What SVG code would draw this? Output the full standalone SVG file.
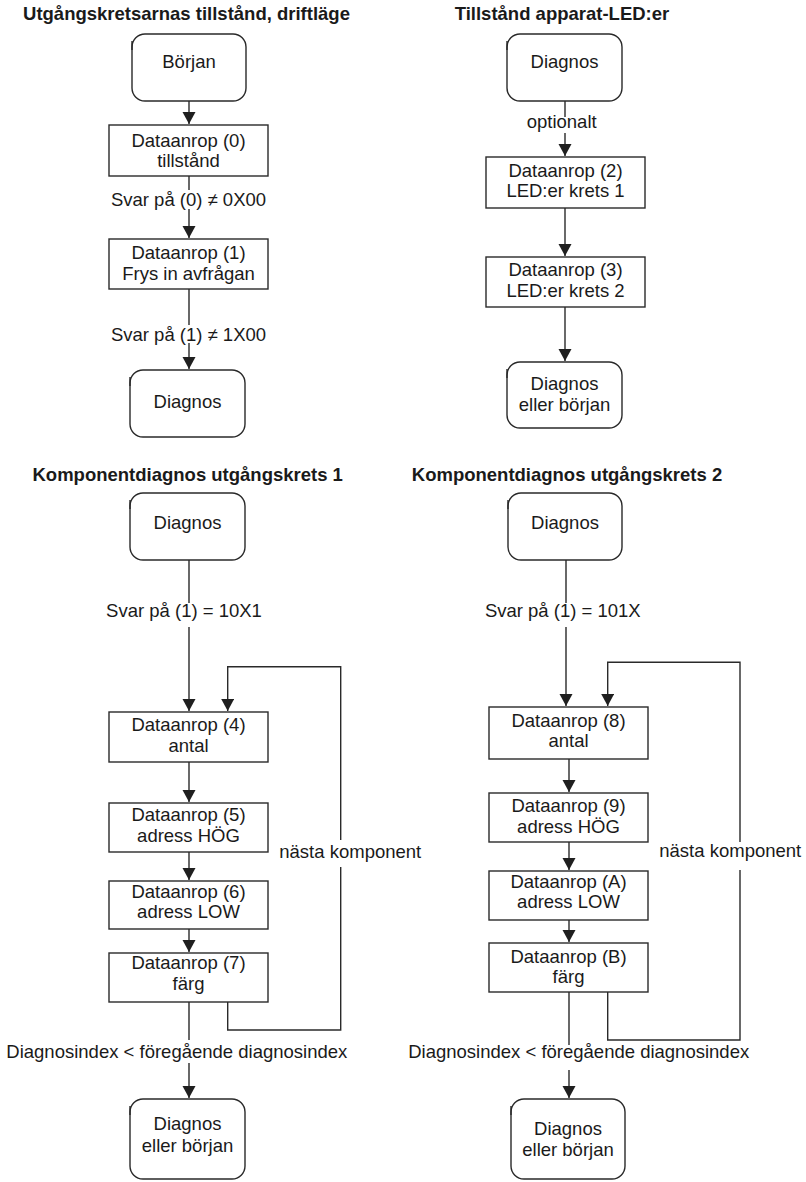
<svg xmlns="http://www.w3.org/2000/svg" width="806" height="1182" viewBox="0 0 806 1182">
<style>
text{font-family:"Liberation Sans",Arial,sans-serif;font-size:18.5px;fill:#1a1a1a;text-anchor:middle}
.t{font-weight:bold}
.s{text-anchor:start}
.b{fill:#fff;stroke:#2a2a2a;stroke-width:1.4}
.c{fill:none;stroke:#2a2a2a;stroke-width:1.4}
</style>
<defs>
<marker id="ah" markerWidth="14" markerHeight="14" refX="12" refY="6.5" orient="auto" markerUnits="userSpaceOnUse"><path d="M0,0 L12,6.5 L0,13 Z" fill="#1f1f1f"/></marker>
</defs>
<rect width="806" height="1182" fill="#fff"/>

<g id="titles">
<text class="t" x="186.5" y="19.5">Utgångskretsarnas tillstånd, driftläge</text>
<text class="t" x="562" y="19.5">Tillstånd apparat-LED:er</text>
<text class="t" x="187.7" y="481">Komponentdiagnos utgångskrets 1</text>
<text class="t" x="567" y="481">Komponentdiagnos utgångskrets 2</text>
</g>

<g id="connectors">
<path class="c" d="M189,101 V124" marker-end="url(#ah)"/>
<path class="c" d="M189,176 V190 M189,209 V238" marker-end="url(#ah)"/>
<path class="c" d="M189,289 V325 M189,343 V369" marker-end="url(#ah)"/>
<path class="c" d="M565,101 V117 M565,133 V156" marker-end="url(#ah)"/>
<path class="c" d="M565,208 V256" marker-end="url(#ah)"/>
<path class="c" d="M565,307 V361" marker-end="url(#ah)"/>
<path class="c" d="M189,560 V603 M189,627 V711" marker-end="url(#ah)"/>
<path class="c" d="M189,762 V802" marker-end="url(#ah)"/>
<path class="c" d="M189,852 V880" marker-end="url(#ah)"/>
<path class="c" d="M189,929 V952" marker-end="url(#ah)"/>
<path class="c" d="M189,1002 V1040 M189,1063 V1098" marker-end="url(#ah)"/>
<path class="c" d="M227.7,1002 V1030 H340.7 V867 M340.7,840 V666.7 H227.7 V711" marker-end="url(#ah)"/>
<path class="c" d="M566,560 V603 M566,627 V706" marker-end="url(#ah)"/>
<path class="c" d="M569,759 V792" marker-end="url(#ah)"/>
<path class="c" d="M569,842 V870" marker-end="url(#ah)"/>
<path class="c" d="M569,920 V942" marker-end="url(#ah)"/>
<path class="c" d="M569,992 V1045 M569,1070 V1098" marker-end="url(#ah)"/>
<path class="c" d="M607.7,992 V1040 H740 V870 M740,842 V662.3 H607.7 V706" marker-end="url(#ah)"/>
<text x="188.5" y="206">Svar på (0) ≠ 0X00</text>
<text x="188.5" y="341">Svar på (1) ≠ 1X00</text>
<text x="561.7" y="128.3">optionalt</text>
<text x="184" y="616.7">Svar på (1) = 10X1</text>
<text x="562.8" y="616.7">Svar på (1) = 101X</text>
<text class="s" x="279.3" y="858.3">nästa komponent</text>
<text class="s" x="659.3" y="856.7">nästa komponent</text>
<text x="176.8" y="1057.7">Diagnosindex &lt; föregående diagnosindex</text>
<text x="578.7" y="1057.7">Diagnosindex &lt; föregående diagnosindex</text>
</g>

<g id="n_borjan"><rect class="b" x="132" y="34" width="114" height="67" rx="13"/><path class="c" d="M132,41 V50"/><text x="189" y="68.3">Början</text></g>
<g id="n_d0"><rect class="b" x="109" y="125" width="159" height="51"/><text x="188.5" y="146.7">Dataanrop (0)</text><text x="188.5" y="167">tillstånd</text></g>
<g id="n_d1"><rect class="b" x="109" y="239" width="159" height="50"/><text x="188.5" y="259">Dataanrop (1)</text><text x="188.5" y="280">Frys in avfrågan</text></g>
<g id="n_diag1"><rect class="b" x="130" y="370" width="115" height="67" rx="13"/><path class="c" d="M130,377 V386"/><text x="187.5" y="408">Diagnos</text></g>

<g id="n_diag2"><rect class="b" x="507" y="34" width="115" height="67" rx="13"/><path class="c" d="M507,41 V50"/><text x="564.5" y="68.3">Diagnos</text></g>
<g id="n_d2"><rect class="b" x="486" y="157" width="159" height="51"/><text x="565.5" y="176.5">Dataanrop (2)</text><text x="565.5" y="197.3">LED:er krets 1</text></g>
<g id="n_d3"><rect class="b" x="486" y="257" width="159" height="50"/><text x="565.5" y="276">Dataanrop (3)</text><text x="565.5" y="296.7">LED:er krets 2</text></g>
<g id="n_deb1"><rect class="b" x="507" y="362" width="115" height="66" rx="13"/><path class="c" d="M507,369 V378"/><text x="564.5" y="390">Diagnos</text><text x="564.5" y="410.7">eller början</text></g>

<g id="n_diag3"><rect class="b" x="130" y="493" width="115" height="67" rx="13"/><path class="c" d="M130,500 V509"/><text x="187.5" y="529">Diagnos</text></g>
<g id="n_d4"><rect class="b" x="109" y="712" width="159" height="50"/><text x="188.5" y="730.7">Dataanrop (4)</text><text x="188.5" y="751.7">antal</text></g>
<g id="n_d5"><rect class="b" x="109" y="803" width="159" height="49"/><text x="188.5" y="820.7">Dataanrop (5)</text><text x="188.5" y="841.7">adress HÖG</text></g>
<g id="n_d6"><rect class="b" x="109" y="881" width="159" height="48"/><text x="188.5" y="898.3">Dataanrop (6)</text><text x="188.5" y="918.3">adress LOW</text></g>
<g id="n_d7"><rect class="b" x="109" y="953" width="159" height="49"/><text x="188.5" y="969.3">Dataanrop (7)</text><text x="188.5" y="990">färg</text></g>
<g id="n_deb2"><rect class="b" x="130" y="1099" width="115" height="80" rx="13"/><path class="c" d="M130,1106 V1115"/><text x="187.5" y="1130">Diagnos</text><text x="187.5" y="1151.7">eller början</text></g>

<g id="n_diag4"><rect class="b" x="508" y="493" width="114" height="67" rx="13"/><path class="c" d="M508,500 V509"/><text x="565" y="529">Diagnos</text></g>
<g id="n_d8"><rect class="b" x="489" y="707" width="159" height="52"/><text x="568.5" y="726.7">Dataanrop (8)</text><text x="568.5" y="747.3">antal</text></g>
<g id="n_d9"><rect class="b" x="489" y="793" width="159" height="49"/><text x="568.5" y="811.7">Dataanrop (9)</text><text x="568.5" y="832.7">adress HÖG</text></g>
<g id="n_dA"><rect class="b" x="489" y="871" width="159" height="49"/><text x="568.5" y="888.3">Dataanrop (A)</text><text x="568.5" y="908.3">adress LOW</text></g>
<g id="n_dB"><rect class="b" x="489" y="943" width="159" height="49"/><text x="568.5" y="963.3">Dataanrop (B)</text><text x="568.5" y="983.3">färg</text></g>
<g id="n_deb3"><rect class="b" x="511" y="1099" width="114" height="80" rx="13"/><path class="c" d="M511,1106 V1115"/><text x="568" y="1135">Diagnos</text><text x="568" y="1156">eller början</text></g>
</svg>
